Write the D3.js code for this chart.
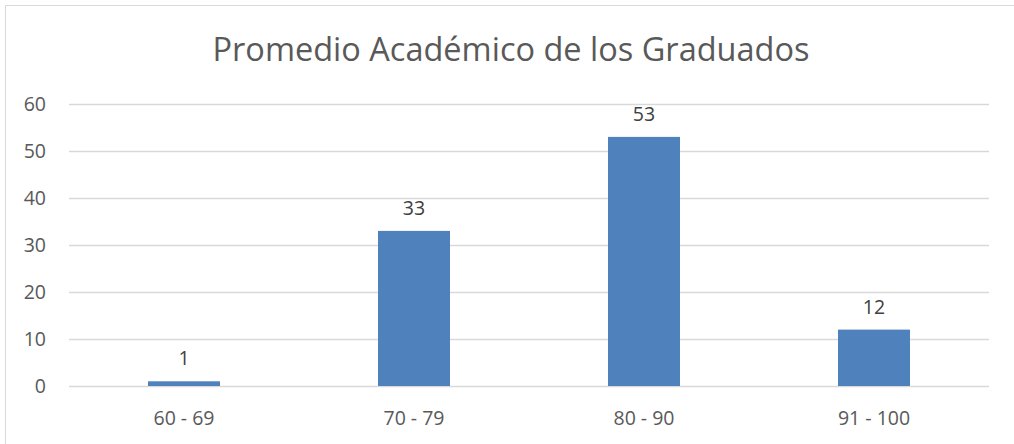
<!DOCTYPE html>
<html>
<head>
<meta charset="utf-8">
<script src="https://cdn.jsdelivr.net/npm/d3@7"></script>
<style>
  body { margin: 0; background: #fff; }
  text { font-family: "Open Sans", "Noto Sans", sans-serif; }
</style>
</head>
<body>
<div id="chart"></div>
<script>
// data
const categories = ["60 - 69", "70 - 79", "80 - 90", "91 - 100"]
const counts = [1, 33, 53, 12]
const yTicks = [0, 10, 20, 30, 40, 50, 60]
const title = "Promedio Académico de los Graduados"

const W = 1014, H = 444
const margin = {top: 104, right: 25, bottom: 58, left: 69}
const width = W - margin.left - margin.right
const height = H - margin.top - margin.bottom

const svg = d3.select("#chart")
  .append("svg")
    .attr("width", W)
    .attr("height", H)

// outer chart border (only left and top show in the crop)
svg.append("path")
  .attr("d", `M5.5,${H} V5.5 H${W}`)
  .attr("fill", "none")
  .attr("stroke", "#d9d9d9")
  .attr("stroke-width", 1)

const g = svg.append("g")
  .attr("transform", `translate(${margin.left}, ${margin.top})`)

const x = d3.scaleBand()
  .domain(categories)
  .range([0, width])
  .paddingInner(0.687)
  .paddingOuter(0.3435)

const y = d3.scaleLinear()
  .domain([0, 60])
  .range([height, 0])

// gridlines + y labels
const yAxis = g.append("g")
  .call(d3.axisLeft(y).tickValues(yTicks).tickSize(-width).tickPadding(23))
yAxis.select(".domain").remove()
yAxis.selectAll(".tick line").attr("stroke", "#d9d9d9").attr("stroke-width", 1.3)
yAxis.selectAll(".tick text")
  .attr("fill", "#595959")
  .style("font-size", "19.5px")

// bars
g.selectAll(".bar")
  .data(counts)
  .join("rect")
    .attr("class", "bar")
    .attr("x", (d, i) => x(categories[i]))
    .attr("y", d => y(d))
    .attr("width", x.bandwidth())
    .attr("height", d => height - y(d))
    .attr("fill", "#4f81bd")

// value labels
g.selectAll(".lbl")
  .data(counts)
  .join("text")
    .attr("class", "lbl")
    .attr("x", (d, i) => x(categories[i]) + x.bandwidth() / 2)
    .attr("y", d => y(d) - 16)
    .attr("text-anchor", "middle")
    .attr("fill", "#404040")
    .style("font-size", "19.5px")
    .text(d => d)

// x labels
const xAxis = g.append("g")
  .attr("transform", `translate(0, ${height})`)
  .call(d3.axisBottom(x).tickSize(0).tickPadding(25))
xAxis.select(".domain").remove()
xAxis.selectAll(".tick text")
  .attr("fill", "#595959")
  .style("font-size", "19.5px")

// title
svg.append("text")
  .attr("x", 511)
  .attr("y", 61)
  .attr("text-anchor", "middle")
  .attr("fill", "#595959")
  .style("font-size", "32.5px")
  .text(title)
</script>
</body>
</html>
